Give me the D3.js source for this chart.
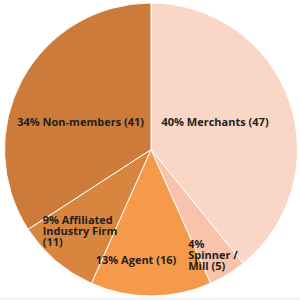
<!DOCTYPE html>
<html>
<head>
<meta charset="utf-8">
<script src="https://cdn.jsdelivr.net/npm/d3@7"></script>
<style>
  html, body { margin: 0; padding: 0; background: #fff; }
  svg { display: block; }
  .lbl { font-family: "Open Sans", sans-serif; font-weight: 700; font-size: 11px; fill: #231f20; }
</style>
</head>
<body>
<svg id="chart" width="300" height="300"></svg>
<script>
// chart data
const categories = ["Merchants", "Spinner / Mill", "Agent", "Affiliated Industry Firm", "Non-members"];
const counts = [47, 5, 16, 11, 41];
const percents = [40, 4, 13, 9, 34];
const colors = ["#fad6c6", "#f8c3aa", "#f59a4b", "#d8863f", "#cc7b3b"];
// label lines as they wrap in the picture
const labelLines = [
    ["40% Merchants (47)"],
    ["4%", "Spinner /", "Mill (5)"],
    ["13% Agent (16)"],
    ["9% Affiliated", "Industry Firm", "(11)"],
    ["34% Non-members (41)"]
];

const width = 300, height = 300;
const cx = 151, cy = 149.5, radius = 146.5;

// layout tweaks for label placement (px, relative to slice centroid)
const labelNudge = [[-5, -2.5], [-21, 10.5], [-15, -0.5], [-36, -3.5], [-6, 8]];
const lineH = 11, capH = 7.7;

const svg = d3.select("#chart");

// faint grey strip along the bottom edge of the original image
svg.append("rect")
    .attr("x", 0).attr("y", 297)
    .attr("width", width).attr("height", 3)
    .attr("fill", "#f5f5f5");

const g = svg.append("g").attr("transform", `translate(${cx},${cy})`);

const pie = d3.pie().sort(null).value(d => d.count);
const data = categories.map((c, i) => ({ name: c, count: counts[i], i }));
const arcs = pie(data);

const arc = d3.arc().innerRadius(0).outerRadius(radius);

g.selectAll("path.slice")
    .data(arcs)
    .join("path")
    .attr("class", "slice")
    .attr("d", arc)
    .attr("fill", d => colors[d.data.i])
    .attr("stroke", "#fff")
    .attr("stroke-width", 1);

// big slices get labels nearer the middle, thin ones near the rim
const labelPos = d => {
    const share = d.data.count / d3.sum(counts);
    const r = share > 0.25 ? radius * 0.5 : radius * 0.76;
    return d3.arc().innerRadius(r).outerRadius(r).centroid(d);
};

arcs.forEach(d => {
    const [x, y] = labelPos(d);
    const [nx, ny] = labelNudge[d.data.i];
    const lines = labelLines[d.data.i];
    const multi = lines.length > 1;
    const b1 = (y + ny) - ((lines.length - 1) * lineH - capH) / 2;
    const t = g.append("text")
        .attr("class", "lbl")
        .attr("text-anchor", multi ? "start" : "middle")
        .attr("transform", `translate(${x + nx},${b1})`);
    lines.forEach((ln, k) => {
        t.append("tspan").attr("x", 0).attr("y", k * lineH).text(ln);
    });
});
</script>
</body>
</html>
